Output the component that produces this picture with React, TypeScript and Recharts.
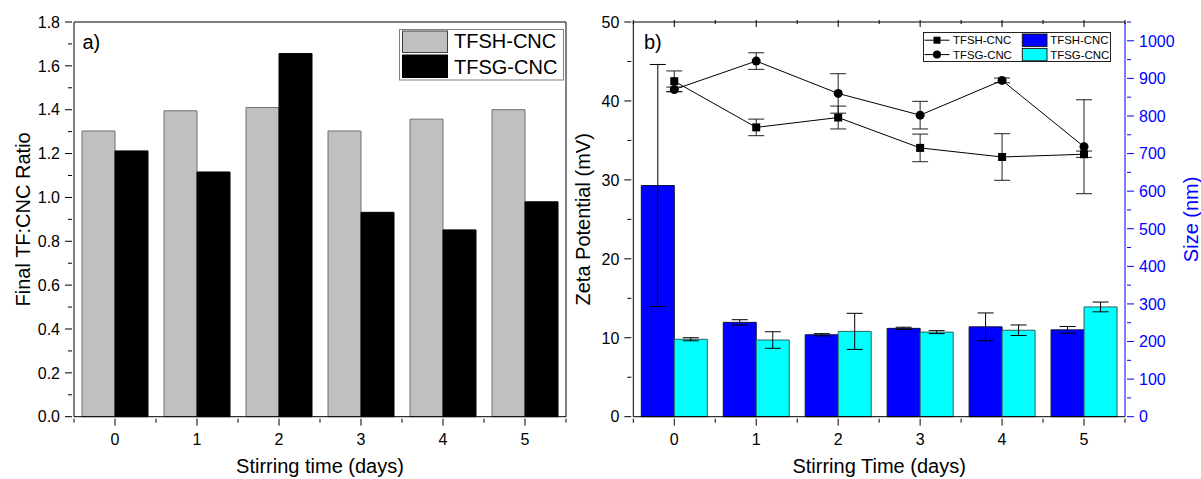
import React from 'react';
import { BarChart, Bar, ComposedChart, Line, XAxis, YAxis, ErrorBar, Legend } from 'recharts';

const FONT = '"Liberation Sans", Arial, Helvetica, sans-serif';
const BLACK = '#000000';
const AXIS_BLUE = '#0000ff';

// ---- panel a) final TF:CNC ratio ----
const days = ['0', '1', '2', '3', '4', '5'];
const tfshRatio = [1.303, 1.395, 1.41, 1.303, 1.357, 1.4];
const tfsgRatio = [1.212, 1.116, 1.656, 0.932, 0.852, 0.98];
const ratioTicks = [0, 0.2, 0.4, 0.6, 0.8, 1.0, 1.2, 1.4, 1.6, 1.8];

// ---- panel b) zeta potential (mV) and particle size (nm) ----
const tfshZeta = [42.5, 36.65, 37.9, 34.05, 32.9, 33.25];
const tfshZetaErr = [1.3, 1.05, 1.45, 1.75, 2.95, 0.4];
const tfsgZeta = [41.45, 45.05, 40.95, 38.2, 42.6, 34.2];
const tfsgZetaErr = [0.3, 1.05, 2.5, 1.75, 0.3, 5.95];
const tfshSize = [615, 251, 218, 235, 239, 231];
const tfshSizeErr = [322, 7, 3, 3, 37, 9];
const tfsgSize = [206, 204, 227, 225, 230, 292];
const tfsgSizeErr = [4, 22, 48, 4, 14, 13];
const zetaTicks = [0, 10, 20, 30, 40, 50];
const sizeTicks = [0, 100, 200, 300, 400, 500, 600, 700, 800, 900, 1000];

const TFSH = 'TFSH-CNC';
const TFSG = 'TFSG-CNC';

const ratioData = days.map((d, i) => ({ day: d, tfsh: tfshRatio[i], tfsg: tfsgRatio[i] }));
const zetaSizeData = days.map((d, i) => ({
  day: d,
  tfshZeta: tfshZeta[i],
  tfshZetaErr: tfshZetaErr[i],
  tfsgZeta: tfsgZeta[i],
  tfsgZetaErr: tfsgZetaErr[i],
  tfshSize: tfshSize[i],
  tfshSizeErr: tfshSizeErr[i],
  tfsgSize: tfsgSize[i],
  tfsgSizeErr: tfsgSizeErr[i],
}));

// ---- layout ----
const CHART_H = 479;
const TOP = 22;
const X_AXIS_H = 62.3;
const FRAME = 1; // thickness reserved by the frame axes (top / right border)

const A_WIDTH = 570;
const A_YAXIS_W = 74;
const A_RIGHT = 4;
const A_BAND = (A_WIDTH - A_YAXIS_W - A_RIGHT) / days.length;

const B_LEFT = 570;
const B_WIDTH = 631;
const B_YAXIS_L = 63.3;
const B_YAXIS_R = 76;
const B_BAND = (B_WIDTH - B_YAXIS_L - B_YAXIS_R) / days.length;

// major ticks plus half-step minor ticks up to the domain maximum
function withMinor(majors: number[], upTo: number): number[] {
  const step = majors[1] - majors[0];
  const out: number[] = [];
  for (let k = 0; majors[0] + (k * step) / 2 <= upTo + 1e-9; k++) {
    out.push(+(majors[0] + (k * step) / 2).toFixed(6));
  }
  return out;
}
const isMajor = (majors: number[], v: number) => majors.some((m) => Math.abs(m - v) < 1e-6);

const yTick = (majors: number[], side: 'left' | 'right', color: string, digits: number) => (props: any) => {
  const { x, y, payload } = props;
  const major = isMajor(majors, payload.value);
  const dir = side === 'left' ? -1 : 1;
  return (
    <g>
      <line x1={x} x2={x + dir * (major ? 7 : 4)} y1={y} y2={y} stroke={color} strokeWidth={1} />
      {major && (
        <text
          x={x + dir * 12}
          y={y}
          dy="0.36em"
          textAnchor={side === 'left' ? 'end' : 'start'}
          fontSize={16}
          fontFamily={FONT}
          fill={color}
        >
          {Number(payload.value).toFixed(digits)}
        </text>
      )}
    </g>
  );
};

const xTick = (band: number, showLabel: boolean) => (props: any) => {
  const { x, y, payload } = props;
  const last = payload.value === days[days.length - 1];
  return (
    <g>
      <line x1={x} x2={x} y1={y} y2={y + 7} stroke={BLACK} strokeWidth={1} />
      <line x1={x - band / 2} x2={x - band / 2} y1={y} y2={y + 4} stroke={BLACK} strokeWidth={1} />
      {last && <line x1={x + band / 2} x2={x + band / 2} y1={y} y2={y + 4} stroke={BLACK} strokeWidth={1} />}
      {showLabel && (
        <text x={x} y={y + 26.3} textAnchor="middle" fontSize={16} fontFamily={FONT} fill={BLACK}>
          {payload.value}
        </text>
      )}
    </g>
  );
};

const xTitle = (text: string) => (p: any) => {
  const vb = p.viewBox;
  return (
    <text x={vb.x + vb.width / 2} y={vb.y + 56.3} textAnchor="middle" fontSize={20} fontFamily={FONT} fill={BLACK}>
      {text}
    </text>
  );
};

const yTitle = (text: string, fromPlot: number, side: 'left' | 'right', color: string) => (p: any) => {
  const vb = p.viewBox;
  const bx = side === 'left' ? vb.x + vb.width - fromPlot : vb.x + fromPlot;
  const cy = vb.y + vb.height / 2;
  return (
    <text
      x={bx}
      y={cy}
      transform={`rotate(-90 ${bx} ${cy})`}
      textAnchor="middle"
      fontSize={20}
      fontFamily={FONT}
      fill={color}
    >
      {text}
    </text>
  );
};

// panel letter placed just inside the top-left corner of the plot
const panelTag = (text: string, dx: number) => (p: any) => {
  const vb = p.viewBox;
  return (
    <text x={vb.x + dx} y={vb.y + vb.height + 27} fontSize={20} fontFamily={FONT} fill={BLACK}>
      {text}
    </text>
  );
};

const squareDot = (p: any) => (
  <rect key={`sq-${p.index}`} x={p.cx - 4} y={p.cy - 4} width={8} height={8} fill={BLACK} />
);
const circleDot = (p: any) => <circle key={`ci-${p.index}`} cx={p.cx} cy={p.cy} r={4.5} fill={BLACK} />;

const ratioLegend = () => (
  <svg width={165} height={52} style={{ display: 'block' }}>
    <rect x={0.5} y={0.5} width={164} height={50.5} fill="#ffffff" stroke="#808080" strokeWidth={1} />
    <rect x={3.5} y={2} width={45} height={21.5} fill="#c0c0c0" stroke="#404040" strokeWidth={1} />
    <rect x={3.5} y={26} width={45} height={22.5} fill="#000000" stroke="#000000" strokeWidth={1} />
    <text x={55} y={19} fontSize={20} fontFamily={FONT} fill={BLACK}>
      {TFSH}
    </text>
    <text x={55} y={44.5} fontSize={20} fontFamily={FONT} fill={BLACK}>
      {TFSG}
    </text>
  </svg>
);

const zetaLegend = () => {
  const rows = [8.2, 22.6];
  return (
    <svg width={188} height={30} style={{ display: 'block' }}>
      <rect x={0.5} y={0.5} width={187} height={29} fill="#ffffff" stroke="#222222" strokeWidth={1} />
      {rows.map((ry, i) => (
        <g key={i}>
          <line x1={1.5} x2={26.5} y1={ry} y2={ry} stroke={BLACK} strokeWidth={1} />
          {i === 0 ? (
            <rect x={10.5} y={ry - 3.5} width={7} height={7} fill={BLACK} />
          ) : (
            <circle cx={14} cy={ry} r={4} fill={BLACK} />
          )}
          <text x={30} y={ry + 4.2} fontSize={11.4} fontFamily={FONT} fill={BLACK}>
            {i === 0 ? TFSH : TFSG}
          </text>
          <rect
            x={99.3}
            y={ry - 6.2}
            width={24.7}
            height={12.4}
            fill={i === 0 ? '#0000ff' : '#00ffff'}
            stroke="#1a1a1a"
            strokeWidth={1}
          />
          <text x={127.3} y={ry + 4.2} fontSize={11.4} fontFamily={FONT} fill={BLACK}>
            {i === 0 ? TFSH : TFSG}
          </text>
        </g>
      ))}
    </svg>
  );
};

export default function App() {
  return (
    <div style={{ position: 'absolute', left: 0, top: 0, width: 1201, height: 479, background: '#ffffff' }}>
      <div style={{ position: 'absolute', left: 0, top: 0 }}>
        <BarChart
          width={A_WIDTH}
          height={CHART_H}
          data={ratioData}
          margin={{ top: TOP - FRAME, right: A_RIGHT - FRAME, bottom: 0, left: 0 }}
          barCategoryGap={8}
          barGap={0}
        >
          <XAxis
            dataKey="day"
            type="category"
            height={X_AXIS_H}
            interval={0}
            tickSize={0}
            tickLine={false}
            tick={xTick(A_BAND, true)}
            axisLine={{ stroke: BLACK }}
            label={xTitle('Stirring time (days)')}
          />
          <XAxis
            xAxisId="top"
            dataKey="day"
            type="category"
            orientation="top"
            height={FRAME}
            tick={false}
            tickLine={false}
            axisLine={{ stroke: BLACK }}
            label={panelTag('a)', 8.5)}
          />
          <YAxis
            domain={[0, 1.8]}
            ticks={withMinor(ratioTicks, 1.8)}
            width={A_YAXIS_W}
            interval={0}
            tickSize={0}
            tickLine={false}
            tick={yTick(ratioTicks, 'left', BLACK, 1)}
            axisLine={{ stroke: BLACK }}
            label={yTitle('Final TF:CNC Ratio', 44, 'left', BLACK)}
          />
          <YAxis
            yAxisId="frame"
            orientation="right"
            width={FRAME}
            domain={[0, 1]}
            tick={false}
            tickLine={false}
            axisLine={{ stroke: BLACK }}
          />
          <Bar dataKey="tfsh" name={TFSH} fill="#c0c0c0" stroke="#6e6e6e" strokeWidth={1} isAnimationActive={false} />
          <Bar dataKey="tfsg" name={TFSG} fill="#000000" stroke="#000000" strokeWidth={1} isAnimationActive={false} />
          <Legend
            layout="vertical"
            align="center"
            verticalAlign="middle"
            wrapperStyle={{ position: 'absolute', left: 399, top: 29, width: 165, height: 52 }}
            content={ratioLegend}
          />
        </BarChart>
      </div>

      <div style={{ position: 'absolute', left: B_LEFT, top: 0 }}>
        <ComposedChart
          width={B_WIDTH}
          height={CHART_H}
          data={zetaSizeData}
          margin={{ top: TOP - FRAME, right: 0, bottom: 0, left: 0 }}
          barCategoryGap={8}
          barGap={0}
        >
          <XAxis
            dataKey="day"
            type="category"
            height={X_AXIS_H}
            interval={0}
            tickSize={0}
            tickLine={false}
            tick={xTick(B_BAND, true)}
            axisLine={{ stroke: BLACK }}
            label={xTitle('Stirring Time (days)')}
          />
          <XAxis
            xAxisId="top"
            dataKey="day"
            type="category"
            orientation="top"
            height={FRAME}
            interval={0}
            tickSize={0}
            tickLine={false}
            tick={xTick(B_BAND, false)}
            axisLine={{ stroke: BLACK }}
            label={panelTag('b)', 10.7)}
          />
          <YAxis
            yAxisId="zeta"
            orientation="left"
            domain={[0, 50]}
            ticks={withMinor(zetaTicks, 50)}
            width={B_YAXIS_L}
            interval={0}
            tickSize={0}
            tickLine={false}
            tick={yTick(zetaTicks, 'left', BLACK, 0)}
            axisLine={{ stroke: BLACK }}
            label={yTitle('Zeta Potential (mV)', 43.3, 'left', BLACK)}
          />
          <YAxis
            yAxisId="size"
            orientation="right"
            domain={[0, 1050]}
            ticks={withMinor(sizeTicks, 1050)}
            width={B_YAXIS_R}
            interval={0}
            tickSize={0}
            tickLine={false}
            tick={yTick(sizeTicks, 'right', AXIS_BLUE, 0)}
            axisLine={{ stroke: AXIS_BLUE }}
            label={yTitle('Size (nm)', 73, 'right', AXIS_BLUE)}
          />
          <Bar yAxisId="size" dataKey="tfshSize" name={TFSH} fill="#0000ff" stroke="#101040" strokeWidth={1} isAnimationActive={false}>
            <ErrorBar dataKey="tfshSizeErr" width={8} stroke="#000000" strokeWidth={1} direction="y" />
          </Bar>
          <Bar yAxisId="size" dataKey="tfsgSize" name={TFSG} fill="#00ffff" stroke="#2f6060" strokeWidth={1} isAnimationActive={false}>
            <ErrorBar dataKey="tfsgSizeErr" width={8} stroke="#000000" strokeWidth={1} direction="y" />
          </Bar>
          <Line
            yAxisId="zeta"
            type="linear"
            dataKey="tfshZeta"
            name={TFSH}
            stroke={BLACK}
            strokeWidth={1}
            dot={squareDot}
            activeDot={false}
            legendType="square"
            isAnimationActive={false}
          >
            <ErrorBar dataKey="tfshZetaErr" width={8} stroke="#222222" strokeWidth={1} direction="y" />
          </Line>
          <Line
            yAxisId="zeta"
            type="linear"
            dataKey="tfsgZeta"
            name={TFSG}
            stroke={BLACK}
            strokeWidth={1}
            dot={circleDot}
            activeDot={false}
            legendType="circle"
            isAnimationActive={false}
          >
            <ErrorBar dataKey="tfsgZetaErr" width={8} stroke="#222222" strokeWidth={1} direction="y" />
          </Line>
          <Legend
            layout="vertical"
            align="center"
            verticalAlign="middle"
            wrapperStyle={{ position: 'absolute', left: 352.7, top: 32.3, width: 188, height: 30 }}
            content={zetaLegend}
          />
        </ComposedChart>
      </div>
    </div>
  );
}
